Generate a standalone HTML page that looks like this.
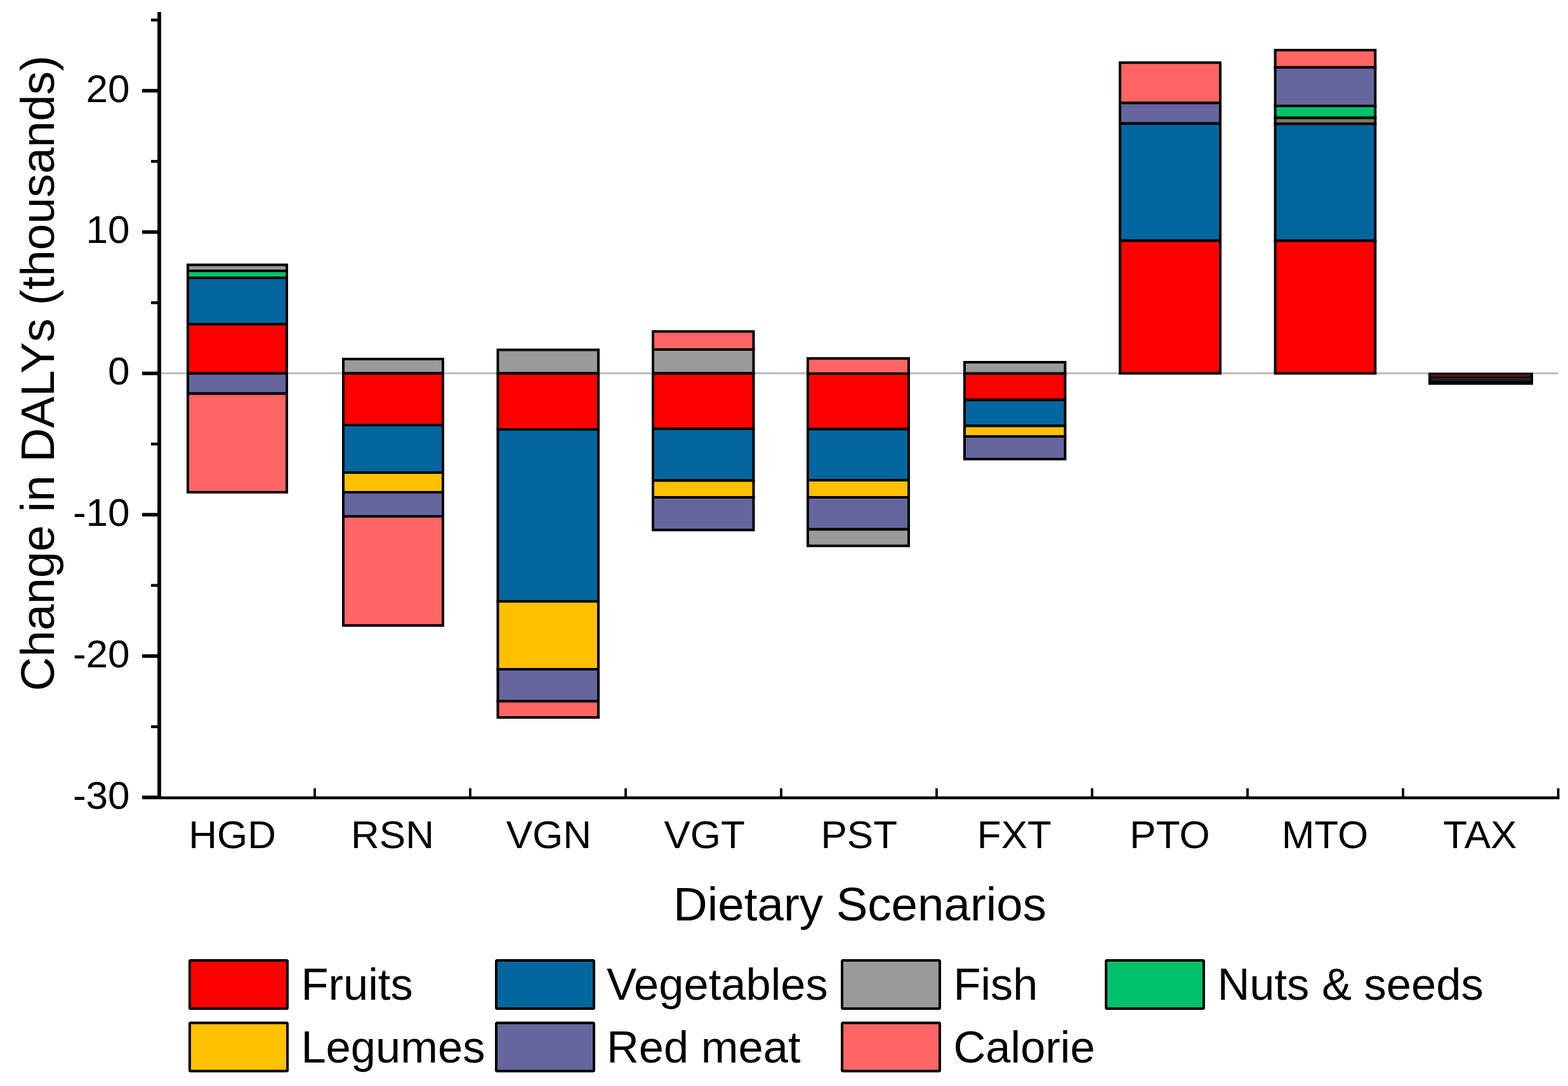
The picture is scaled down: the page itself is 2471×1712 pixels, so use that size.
<!DOCTYPE html>
<html><head><meta charset="utf-8"><title>Change in DALYs by Dietary Scenario</title>
<style>html,body{margin:0;padding:0;background:#fff;width:2471px;height:1712px;overflow:hidden}svg{display:block;filter:blur(0.7px)}</style>
</head><body>
<svg width="2471" height="1712" viewBox="0 0 2471 1712">
<rect x="0" y="0" width="2471" height="1712" fill="#fff"/>
<line x1="251" y1="588.6" x2="2456" y2="588.6" stroke="#BDBDBD" stroke-width="3"/>
<g stroke="#000" stroke-width="4.0">
<rect x="296" y="417.5" width="156" height="9.5" fill="#9A9A9A"/>
<rect x="296" y="427" width="156" height="11" fill="#00C06B"/>
<rect x="296" y="438" width="156" height="73" fill="#03669E"/>
<rect x="296" y="511" width="156" height="77.6" fill="#FF0000"/>
<rect x="296" y="588.6" width="156" height="31.9" fill="#66669F"/>
<rect x="296" y="620.5" width="156" height="155.5" fill="#FF6565"/>
<rect x="541" y="566" width="157" height="22.6" fill="#9A9A9A"/>
<rect x="541" y="588.6" width="157" height="81.4" fill="#FF0000"/>
<rect x="541" y="670" width="157" height="75" fill="#03669E"/>
<rect x="541" y="745" width="157" height="31" fill="#FFC000"/>
<rect x="541" y="776" width="157" height="38" fill="#66669F"/>
<rect x="541" y="814" width="157" height="172" fill="#FF6565"/>
<rect x="784.5" y="551.5" width="158.5" height="37.1" fill="#9A9A9A"/>
<rect x="784.5" y="588.6" width="158.5" height="88.4" fill="#FF0000"/>
<rect x="784.5" y="677" width="158.5" height="271" fill="#03669E"/>
<rect x="784.5" y="948" width="158.5" height="107" fill="#FFC000"/>
<rect x="784.5" y="1055" width="158.5" height="50.5" fill="#66669F"/>
<rect x="784.5" y="1105.5" width="158.5" height="25.5" fill="#FF6565"/>
<rect x="1029" y="522.5" width="158.5" height="28.5" fill="#FF6565"/>
<rect x="1029" y="551" width="158.5" height="37.6" fill="#9A9A9A"/>
<rect x="1029" y="588.6" width="158.5" height="87.4" fill="#FF0000"/>
<rect x="1029" y="676" width="158.5" height="81.5" fill="#03669E"/>
<rect x="1029" y="757.5" width="158.5" height="26.5" fill="#FFC000"/>
<rect x="1029" y="784" width="158.5" height="51.5" fill="#66669F"/>
<rect x="1273" y="565" width="159" height="24" fill="#FF6565"/>
<rect x="1273" y="589" width="159" height="87.5" fill="#FF0000"/>
<rect x="1273" y="676.5" width="159" height="80.5" fill="#03669E"/>
<rect x="1273" y="757" width="159" height="27" fill="#FFC000"/>
<rect x="1273" y="784" width="159" height="50.5" fill="#66669F"/>
<rect x="1273" y="834.5" width="159" height="26" fill="#9A9A9A"/>
<rect x="1520" y="571" width="158.5" height="17.8" fill="#9A9A9A"/>
<rect x="1520" y="588.8" width="158.5" height="41.6" fill="#FF0000"/>
<rect x="1520" y="630.4" width="158.5" height="41" fill="#03669E"/>
<rect x="1520" y="671.4" width="158.5" height="16.6" fill="#FFC000"/>
<rect x="1520" y="688" width="158.5" height="35.7" fill="#66669F"/>
<rect x="1765" y="98.7" width="158" height="63.6" fill="#FF6565"/>
<rect x="1765" y="162.3" width="158" height="32.4" fill="#66669F"/>
<rect x="1765" y="194.7" width="158" height="184.8" fill="#03669E"/>
<rect x="1765" y="379.5" width="158" height="209.1" fill="#FF0000"/>
<rect x="2009.6" y="79" width="157.7" height="27.2" fill="#FF6565"/>
<rect x="2009.6" y="106.2" width="157.7" height="60.8" fill="#66669F"/>
<rect x="2009.6" y="167" width="157.7" height="18.7" fill="#00C06B"/>
<rect x="2009.6" y="185.7" width="157.7" height="9.5" fill="#7d7b62"/>
<rect x="2009.6" y="195.2" width="157.7" height="184.4" fill="#03669E"/>
<rect x="2009.6" y="379.6" width="157.7" height="209" fill="#FF0000"/>
</g>
<rect x="2251" y="587.6" width="165" height="19" fill="#000"/>
<rect x="2255" y="590" width="157" height="4" fill="#5a1010"/>
<rect x="2255" y="595.5" width="157" height="5" fill="#1a2530"/>
<g stroke="#000" fill="none">
<line x1="251" y1="19" x2="251" y2="1260" stroke-width="5.8"/>
<line x1="224" y1="1257.7" x2="2457.5" y2="1257.7" stroke-width="4.6"/>
<line x1="224" y1="143" x2="251" y2="143" stroke-width="5.6"/>
<line x1="224" y1="365.8" x2="251" y2="365.8" stroke-width="5.6"/>
<line x1="224" y1="588.6" x2="251" y2="588.6" stroke-width="5.6"/>
<line x1="224" y1="811.4" x2="251" y2="811.4" stroke-width="5.6"/>
<line x1="224" y1="1034.2" x2="251" y2="1034.2" stroke-width="5.6"/>
<line x1="224" y1="1257" x2="251" y2="1257" stroke-width="5.6"/>
<line x1="238" y1="31.6" x2="251" y2="31.6" stroke-width="4.5"/>
<line x1="238" y1="254.4" x2="251" y2="254.4" stroke-width="4.5"/>
<line x1="238" y1="477.2" x2="251" y2="477.2" stroke-width="4.5"/>
<line x1="238" y1="700" x2="251" y2="700" stroke-width="4.5"/>
<line x1="238" y1="922.8" x2="251" y2="922.8" stroke-width="4.5"/>
<line x1="238" y1="1145.6" x2="251" y2="1145.6" stroke-width="4.5"/>
<line x1="496" y1="1242.6" x2="496" y2="1257" stroke-width="3.8"/>
<line x1="741" y1="1242.6" x2="741" y2="1257" stroke-width="3.8"/>
<line x1="986" y1="1242.6" x2="986" y2="1257" stroke-width="3.8"/>
<line x1="1231" y1="1242.6" x2="1231" y2="1257" stroke-width="3.8"/>
<line x1="1476" y1="1242.6" x2="1476" y2="1257" stroke-width="3.8"/>
<line x1="1721" y1="1242.6" x2="1721" y2="1257" stroke-width="3.8"/>
<line x1="1966" y1="1242.6" x2="1966" y2="1257" stroke-width="3.8"/>
<line x1="2211" y1="1242.6" x2="2211" y2="1257" stroke-width="3.8"/>
<line x1="2455.6" y1="1242.6" x2="2455.6" y2="1257" stroke-width="3.8"/>
</g>
<g font-family="'Liberation Sans', Arial, sans-serif" fill="#000">
<text x="204.5" y="160.5" font-size="62" text-anchor="end">20</text>
<text x="204.5" y="383.3" font-size="62" text-anchor="end">10</text>
<text x="204.5" y="606.1" font-size="62" text-anchor="end">0</text>
<text x="204.5" y="828.9" font-size="62" text-anchor="end">-10</text>
<text x="204.5" y="1051.7" font-size="62" text-anchor="end">-20</text>
<text x="204.5" y="1274.5" font-size="62" text-anchor="end">-30</text>
<text x="297.34" y="1337" font-size="62">HGD</text>
<text x="553.04" y="1337" font-size="62">RSN</text>
<text x="797.69" y="1337" font-size="62">VGN</text>
<text x="1046.49" y="1337" font-size="62">VGT</text>
<text x="1293.44" y="1337" font-size="62">PST</text>
<text x="1539.84" y="1337" font-size="62">FXT</text>
<text x="1780.34" y="1337" font-size="62">PTO</text>
<text x="2019.64" y="1337" font-size="62">MTO</text>
<text x="2274.36" y="1337" font-size="62">TAX</text>
<text x="1061" y="1451.3" font-size="74.5">Dietary Scenarios</text>
<text transform="translate(85 1089.4) rotate(-90)" x="0" y="0" font-size="74.6">Change in DALYs (thousands)</text>
</g>
<g stroke="#000" stroke-width="4">
<rect x="299" y="1514" width="154" height="76" fill="#FF0000" rx="1.5"/>
<rect x="782" y="1514" width="154" height="76" fill="#03669E" rx="1.5"/>
<rect x="1327" y="1514" width="154" height="76" fill="#9A9A9A" rx="1.5"/>
<rect x="1743" y="1514" width="154" height="76" fill="#00C06B" rx="1.5"/>
<rect x="299" y="1612.5" width="154" height="76" fill="#FFC000" rx="1.5"/>
<rect x="782" y="1612.5" width="154" height="76" fill="#66669F" rx="1.5"/>
<rect x="1327" y="1612.5" width="154" height="76" fill="#FF6565" rx="1.5"/>
</g>
<g font-family="'Liberation Sans', Arial, sans-serif" fill="#000" font-size="70.5">
<text x="474.4" y="1576">Fruits</text>
<text x="955.9" y="1576">Vegetables</text>
<text x="1502.4" y="1576">Fish</text>
<text x="1918.4" y="1576">Nuts &amp; seeds</text>
<text x="474.4" y="1674.5">Legumes</text>
<text x="955.9" y="1674.5">Red meat</text>
<text x="1502.4" y="1674.5">Calorie</text>
</g>
</svg>
</body></html>
